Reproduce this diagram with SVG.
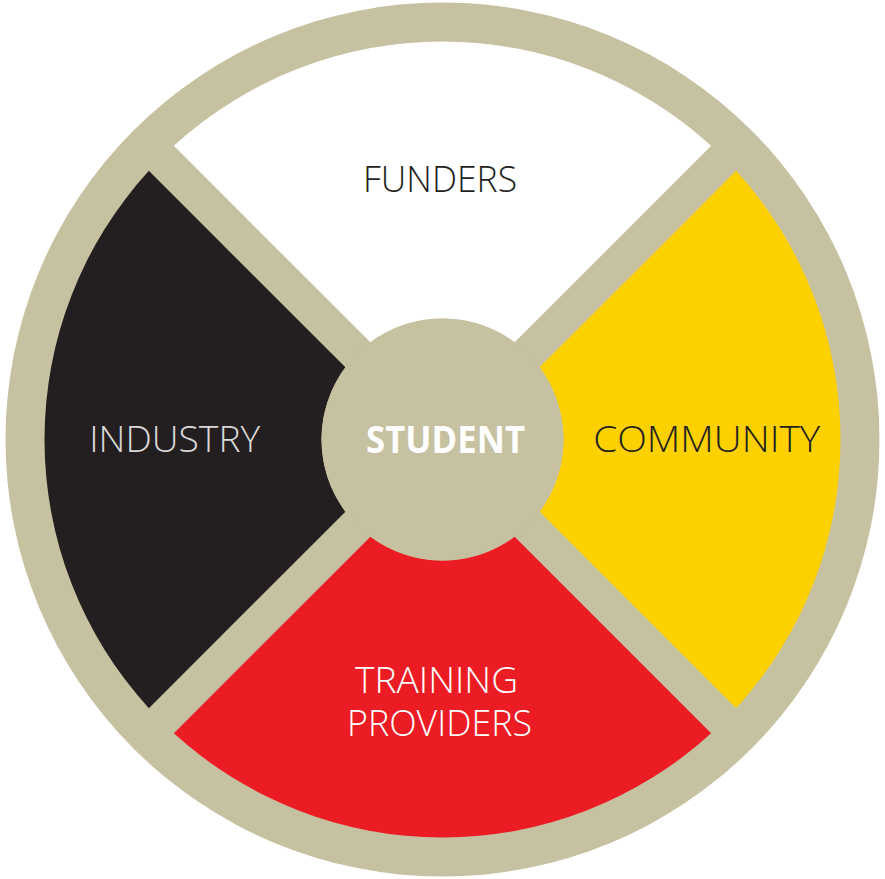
<svg xmlns="http://www.w3.org/2000/svg" width="885" height="879" viewBox="0 0 885 879">
<style>
.lbl{font-family:"Open Sans","Liberation Sans",sans-serif;font-size:37px;font-weight:300;text-anchor:middle}
.bold{font-weight:700}
.band{fill:#c6c1a0}
</style>
<rect width="885" height="879" fill="#ffffff"/>
<g id="ring"><circle class="band" cx="442.5" cy="439.5" r="437"/></g>
<g id="funders">
<path d="M173.85,145.85 A398,398 0 0 1 711.15,145.85 L514.64,342.36 A121,121 0 0 0 370.36,342.36 Z" fill="#ffffff"/>
<text class="lbl" x="440" y="192" fill="#231f20" textLength="154" lengthAdjust="spacingAndGlyphs">FUNDERS</text>
</g>
<g id="community">
<path d="M736.15,170.85 A398,398 0 0 1 736.15,708.15 L539.64,511.64 A121,121 0 0 0 539.64,367.36 Z" fill="#fdd000"/>
<text class="lbl" x="706.7" y="452" fill="#231f20" textLength="227" lengthAdjust="spacingAndGlyphs">COMMUNITY</text>
</g>
<g id="training-providers">
<path d="M711.15,733.15 A398,398 0 0 1 173.85,733.15 L370.36,536.64 A121,121 0 0 0 514.64,536.64 Z" fill="#ec1c24"/>
<text class="lbl" x="436.5" y="693" fill="#ffffff" textLength="163" lengthAdjust="spacingAndGlyphs">TRAINING</text>
<text class="lbl" x="439.5" y="735.5" fill="#ffffff" textLength="185" lengthAdjust="spacingAndGlyphs">PROVIDERS</text>
</g>
<g id="industry">
<path d="M148.85,708.15 A398,398 0 0 1 148.85,170.85 L345.36,367.36 A121,121 0 0 0 345.36,511.64 Z" fill="#231f20"/>
<text class="lbl" x="174.7" y="452.3" fill="#d9d9d9" textLength="171" lengthAdjust="spacingAndGlyphs">INDUSTRY</text>
</g>
<g id="student">
<circle class="band" cx="442.5" cy="439.5" r="121"/>
<text class="lbl bold" x="445.5" y="452.7" fill="#ffffff" textLength="159" lengthAdjust="spacingAndGlyphs">STUDENT</text>
</g>
</svg>
